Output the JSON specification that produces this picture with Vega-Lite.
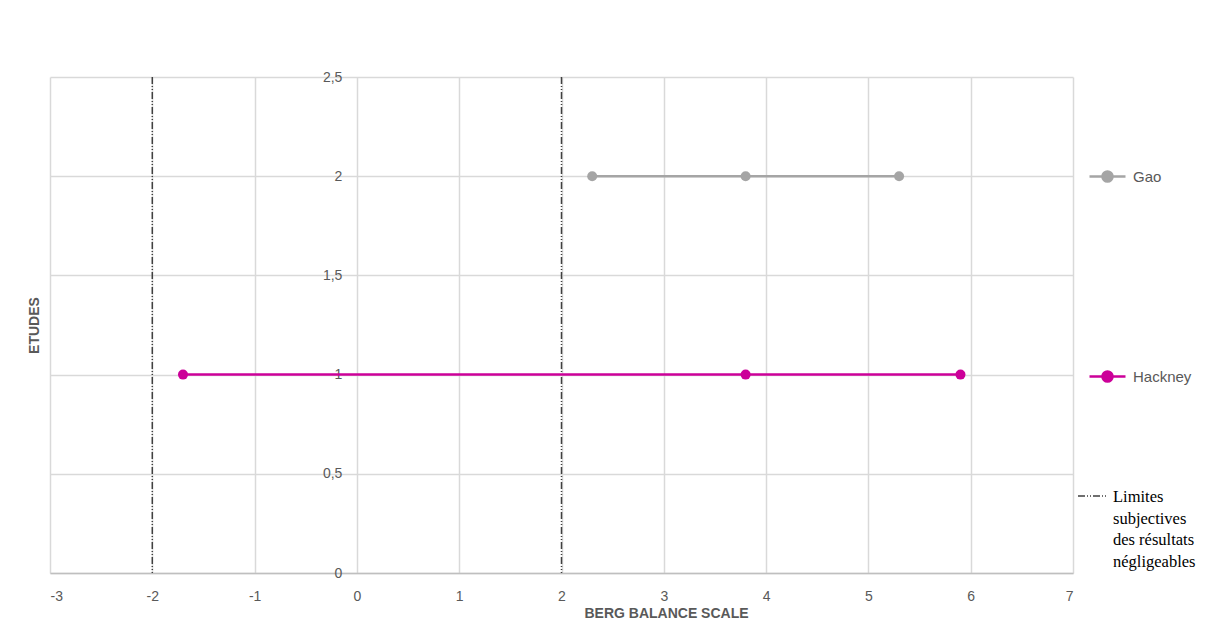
{
  "$schema": "https://vega.github.io/schema/vega-lite/v6.json",
  "width": 1023,
  "height": 496,
  "autosize": {"type": "none"},
  "padding": {"left": 50, "top": 77, "right": 141, "bottom": 53},
  "background": "white",
  "config": {"view": {"stroke": null}, "font": "Liberation Sans"},
  "datasets": {
    "limits": [
      {"x": -2, "lim": "Limites subjectives des résultats négligeables"},
      {"x": 2, "lim": "Limites subjectives des résultats négligeables"}
    ],
    "series": [
      {"etude": "Gao", "score": 2.3, "y": 2},
      {"etude": "Gao", "score": 3.8, "y": 2},
      {"etude": "Gao", "score": 5.3, "y": 2},
      {"etude": "Hackney", "score": -1.7, "y": 1},
      {"etude": "Hackney", "score": 3.8, "y": 1},
      {"etude": "Hackney", "score": 5.9, "y": 1}
    ]
  },
  "layer": [
    {
      "data": {"name": "limits"},
      "mark": {"type": "rule", "color": "#404040", "strokeWidth": 1.5},
      "encoding": {
        "x": {
          "field": "x", "type": "quantitative",
          "scale": {"domain": [-3, 7], "nice": false, "zero": false},
          "axis": {
            "values": [-3, -2, -1, 0, 1, 2, 3, 4, 5, 6, 7],
            "labelExpr": "datum.value < 0 ? '-' + format(-datum.value, 'd') : format(datum.value, 'd')",
            "title": "BERG BALANCE SCALE",
            "titleFont": "Liberation Sans", "titleFontSize": 14, "titleFontWeight": "bold", "titleColor": "#595959",
            "titleX": 616, "titleY": 40, "titleBaseline": "middle", "titleAlign": "center",
            "labelFont": "Liberation Sans", "labelFontSize": 14, "labelColor": "#595959", "labelPadding": 16,
            "ticks": false, "domainColor": "#BFBFBF", "domainWidth": 1.5,
            "grid": true, "gridColor": "#D9D9D9", "gridWidth": 1.5
          }
        },
        "strokeDash": {
          "field": "lim", "type": "nominal",
          "scale": {"range": [[7, 2, 1, 2, 1, 2]]},
          "legend": {
            "orient": "none", "legendX": 1027, "legendY": 404, "title": null, "padding": 0,
            "symbolType": "stroke", "symbolSize": 784, "symbolStrokeColor": "#404040", "symbolStrokeWidth": 1.5,
            "labelFont": "Liberation Serif", "labelFontSize": 16.5, "labelColor": "#000000", "labelOffset": 6,
            "labelExpr": "['Limites', 'subjectives', 'des résultats', 'négligeables']",
            "labelBaseline": "alphabetic", "labelLimit": 300,
            "encode": {"labels": {"update": {"lineHeight": {"value": 21.7}, "dy": {"value": 6}}}}
          }
        }
      }
    },
    {
      "data": {"name": "series"},
      "mark": {"type": "line", "strokeWidth": 2.5},
      "encoding": {
        "x": {"field": "score", "type": "quantitative"},
        "y": {
          "field": "y", "type": "quantitative",
          "scale": {"domain": [0, 2.5], "nice": false},
          "axis": {
            "values": [0, 0.5, 1, 1.5, 2, 2.5],
            "offset": -306.9,
            "labelExpr": "replace(format(datum.value, '.1~f'), '.', ',')",
            "labelFont": "Liberation Sans", "labelFontSize": 14, "labelColor": "#595959", "labelPadding": 15,
            "ticks": false, "domain": false,
            "grid": true, "gridColor": "#D9D9D9", "gridWidth": 1.5,
            "title": "ETUDES",
            "titleFont": "Liberation Sans", "titleFontSize": 14, "titleFontWeight": "bold", "titleColor": "#595959",
            "titleX": -322, "titleY": 248, "titleAngle": -90, "titleBaseline": "middle", "titleAlign": "center"
          }
        },
        "color": {
          "field": "etude", "type": "nominal",
          "scale": {"domain": ["Gao", "Hackney"], "range": ["#A5A5A5", "#CC0099"]},
          "legend": {
            "orient": "none", "legendX": 1038, "legendY": 80, "title": null, "padding": 0,
            "rowPadding": 170,
            "symbolType": "M-1,0L1,0M-0.28,0A0.28,0.28 0 1 0 0.28,0A0.28,0.28 0 1 0 -0.28,0Z",
            "symbolSize": 1296, "symbolStrokeWidth": 2.5,
            "labelFont": "Liberation Sans", "labelFontSize": 15, "labelColor": "#595959", "labelOffset": 6,
            "encode": {"symbols": {"update": {
              "stroke": {"scale": "color", "field": "value"},
              "fill": {"scale": "color", "field": "value"},
              "opacity": {"value": 1}
            }}}
          }
        }
      }
    },
    {
      "data": {"name": "series"},
      "mark": {"type": "point", "filled": true, "size": 100, "opacity": 1},
      "encoding": {
        "x": {"field": "score", "type": "quantitative"},
        "y": {"field": "y", "type": "quantitative"},
        "color": {"field": "etude", "type": "nominal"}
      }
    }
  ]
}
